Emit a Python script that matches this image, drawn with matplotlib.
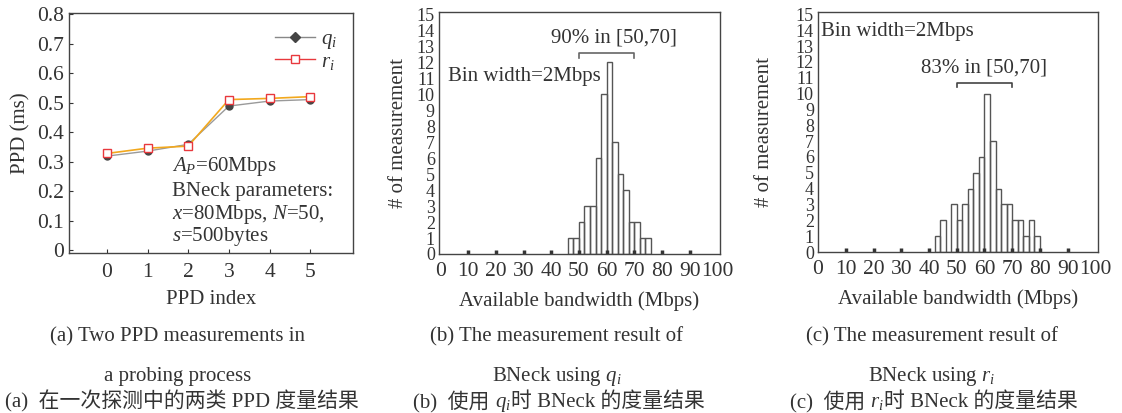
import numpy as np
import matplotlib.pyplot as plt
from matplotlib.lines import Line2D

plt.rcParams['font.family'] = ['Liberation Serif', 'Noto Sans CJK SC']
plt.rcParams['mathtext.fontset'] = 'custom'
plt.rcParams['mathtext.it'] = 'Liberation Serif:italic'
plt.rcParams['mathtext.rm'] = 'Liberation Serif'

# (a) PPD values per index
ppd_index = [0, 1, 2, 3, 4, 5]
ppd_q = [0.319, 0.336, 0.359, 0.489, 0.506, 0.511]
ppd_r = [0.328, 0.346, 0.353, 0.511, 0.515, 0.521]

# (b) histogram using q_i, 2 Mbps bins (left edges)
bins_q = [46, 48, 50, 52, 54, 56, 58, 60, 62, 64, 66, 68, 70, 72, 74]
counts_q = [1, 1, 2, 3, 3, 6, 10, 12, 7, 5, 4, 2, 2, 1, 1]

# (c) histogram using r_i
bins_r = [42, 44, 46, 48, 50, 52, 54, 56, 58, 60, 62, 64, 66, 68, 70, 72, 74, 76, 78]
counts_r = [1, 2, 0, 3, 2, 3, 4, 5, 6, 10, 7, 4, 3, 3, 2, 2, 1, 2, 1]

range_lo, range_hi = 50, 70

tc = '#333333'
sc = '#444444'
W, H = 1122, 413

fig = plt.figure(figsize=(11.22, 4.13), dpi=100)
ax1 = fig.add_axes([0.0615, 0.3874, 0.2531, 0.5811])
ax2 = fig.add_axes([0.3913, 0.385, 0.2504, 0.586])
ax3 = fig.add_axes([0.7291, 0.3898, 0.2496, 0.5811])

for ax in (ax1, ax2, ax3):
    for s in ax.spines.values():
        s.set_color(sc)
        s.set_linewidth(1.0)
    ax.tick_params(colors=tc, labelcolor=tc)

# ---- (a)
ax1.plot(ppd_index, ppd_q, color='#9a9a9a', lw=1.0, zorder=2)
ax1.plot(ppd_index, ppd_r, color='#f2a81d', lw=1.2, zorder=2)
ax1.plot(ppd_index, ppd_q, 'o', color='#444444', ms=5, zorder=3)
ax1.plot(ppd_index, ppd_r, 's', mfc='white', mec='#e8383d', ms=6, mew=1.0, zorder=4)
ax1.set_xlim(-0.93, 6.05)
ax1.set_ylim(-0.01, 0.805)
ax1.set_xticks(ppd_index)
ax1.set_yticks(np.arange(0, 0.81, 0.1))
ax1.set_yticklabels(['0'] + ['%.1f' % v for v in np.arange(0.1, 0.81, 0.1)])
ax1.tick_params(direction='in', length=3, labelsize=15.5)
ax1.tick_params(axis='x', pad=7)
ax1.set_xlabel('PPD index', fontsize=15, color=tc, labelpad=6)
ax1.set_ylabel('PPD (ms)', fontsize=15, color=tc, labelpad=5)
handles = [Line2D([], [], color='#888888', marker='D', mfc='#444444', mec='#444444', ms=5, lw=1),
           Line2D([], [], color='#e8383d', marker='s', mfc='white', mec='#e8383d', ms=6, lw=1)]
ax1.legend(handles, ['$q_i$', '$r_i$'], loc='upper right', frameon=False, fontsize=15,
           handlelength=1.9, handletextpad=0.3, labelspacing=0.05,
           bbox_to_anchor=(1.01, 1.01), labelcolor=tc)
ax1.text(1.6, 0.284, '$A_P$=60Mbps', fontsize=15, color=tc, va='center')
ax1.text(1.6, 0.199, 'BNeck parameters:', fontsize=15, color=tc, va='center')
ax1.text(1.6, 0.121, '$x$=80Mbps, $N$=50,', fontsize=15, color=tc, va='center')
ax1.text(1.6, 0.046, '$s$=500bytes', fontsize=15, color=tc, va='center')


def hist_panel(ax, bins, counts, lpad):
    ax.bar(bins, counts, width=2, align='edge', fill=False, edgecolor='#555555', lw=1.0)
    ax.set_xlim(-0.6, 101)
    ax.set_ylim(0, 15.15)
    ax.set_xticks(np.arange(0, 101, 10))
    ax.set_yticks(np.arange(0, 16, 1))
    ax.tick_params(axis='x', direction='in', length=3, width=2.5, labelsize=15.5, pad=6)
    ax.tick_params(axis='y', length=0, labelsize=13, pad=3)
    ticks = ax.xaxis.get_major_ticks()
    for t in (ticks[0], ticks[-1]):
        t.tick1line.set_visible(False)
    ax.set_xlabel('Available bandwidth (Mbps)', fontsize=15, color=tc, labelpad=7)
    ax.set_ylabel('# of measurement', fontsize=15, color=tc, labelpad=lpad)


hist_panel(ax2, bins_q, counts_q, 6)
ax2.plot([range_lo, range_lo, range_hi, range_hi], [12.3, 12.6, 12.6, 12.3], color='#666666', lw=1.2)
ax2.text(62.5, 13.5, '90% in [50,70]', fontsize=15, color=tc, ha='center', va='center')
ax2.text(2.5, 11.1, 'Bin width=2Mbps', fontsize=15, color=tc, va='center')

hist_panel(ax3, bins_r, counts_r, 16)
ax3.set_xlim(0, 101)
ax3.plot([range_lo, range_lo, range_hi, range_hi], [10.4, 10.7, 10.7, 10.4], color='#444444', lw=1.2)
ax3.text(60, 11.6, '83% in [50,70]', fontsize=15, color=tc, ha='center', va='center')
ax3.text(1.2, 13.9, 'Bin width=2Mbps', fontsize=15, color=tc, va='center')

# captions
cap_fs = 15
caps = [
    (178, '(a) Two PPD measurements in', 'a probing process'),
    (557, '(b) The measurement result of', 'BNeck using $q_i$'),
    (932, '(c) The measurement result of', 'BNeck using $r_i$'),
]
for cx, l1, l2 in caps:
    fig.text(cx / W, 1 - 337 / H, l1, fontsize=cap_fs, color=tc, ha='center', va='center')
    fig.text(cx / W, 1 - 377 / H, l2, fontsize=cap_fs, color=tc, ha='center', va='center')


def chain_pieces(x0, base, pieces):
    # put text pieces one after another on a shared baseline
    yb = 1 - base / H
    prev = fig.text(x0 / W, yb, pieces[0], fontsize=cap_fs, color=tc, va='baseline')
    for p in pieces[1:]:
        prev = fig.add_artist(plt.Annotation(p, xy=(1, yb), xycoords=(prev, 'figure fraction'),
                                             fontsize=cap_fs, color=tc, va='baseline', ha='left'))


chain_pieces(5, 407, ['(a)  在一次探测中的两类 PPD 度量结果'])
chain_pieces(413, 407, ['(b)  使用 ', '$q_i$', '时 BNeck 的度量结果'])
chain_pieces(790, 407, ['(c)  使用 ', '$r_i$', '时 BNeck 的度量结果'])

fig.savefig('out.png', dpi=100)
